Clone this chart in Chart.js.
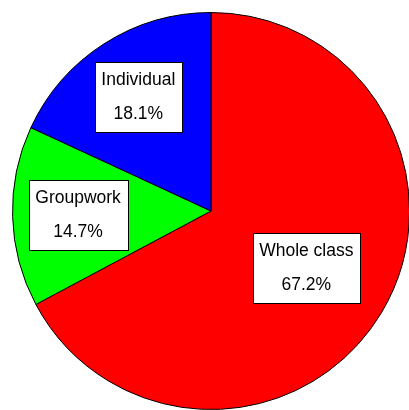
<!DOCTYPE html>
<html>
<head>
<meta charset="utf-8">
<script src="https://cdn.jsdelivr.net/npm/chart.js@4/dist/chart.umd.min.js"></script>
<style>
  html, body { margin: 0; padding: 0; overflow: hidden; background: #fff; }
  #wrap { width: 422px; height: 422px; }
</style>
</head>
<body>
<div id="wrap"><canvas id="myChart" width="422" height="422"></canvas></div>
<script>
const labels = ["Whole class", "Groupwork", "Individual"];
const values = [67.2, 14.7, 18.1];
const colors = ["#ff0000", "#00ff00", "#0000ff"];
// how far out (fraction of radius) each label box sits
const labelDist = [0.56, 0.67, 0.68];

const boxLabels = {
  id: "boxLabels",
  afterDatasetsDraw(chart) {
    const ctx = chart.ctx;
    const meta = chart.getDatasetMeta(0);
    ctx.save();
    ctx.font = "17.5px 'Liberation Sans', Arial, sans-serif";
    ctx.textAlign = "center";
    ctx.textBaseline = "middle";
    meta.data.forEach((arc, i) => {
      const mid = (arc.startAngle + arc.endAngle) / 2;
      const r = arc.outerRadius * labelDist[i];
      const cx = arc.x + Math.cos(mid) * r;
      const cy = arc.y + Math.sin(mid) * r;
      const line1 = labels[i];
      const line2 = values[i].toFixed(1) + "%";
      const w = Math.max(ctx.measureText(line1).width, ctx.measureText(line2).width) + 13;
      const h = 70;
      const x0 = Math.round(cx - w / 2) + 0.5;
      const y0 = Math.round(cy - h / 2) + 0.5;
      ctx.fillStyle = "#fff";
      ctx.fillRect(x0, y0, Math.round(w), h);
      ctx.strokeStyle = "#000";
      ctx.lineWidth = 1;
      ctx.strokeRect(x0, y0, Math.round(w), h);
      ctx.fillStyle = "#000";
      ctx.fillText(line1, cx, cy - 17);
      ctx.fillText(line2, cx, cy + 17);
    });
    ctx.restore();
  }
};

const config = {
  type: "pie",
  data: {
    labels: labels,
    datasets: [
      {
        data: values,
        backgroundColor: colors,
        borderColor: "#000",
        borderWidth: 1,
      },
    ],
  },
  options: {
    responsive: false,
    animation: false,
    layout: { padding: 12 },
    plugins: {
      legend: { display: false },
      tooltip: { enabled: false },
    },
  },
  plugins: [boxLabels],
};
const myChart = new Chart(document.getElementById("myChart"), config);
</script>
</body>
</html>
